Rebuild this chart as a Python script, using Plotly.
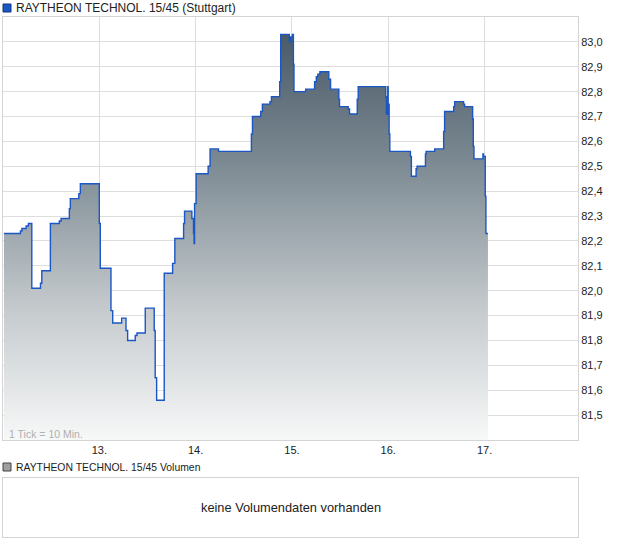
import plotly.graph_objects as go

# ---- data (time in day-of-month units, price in EUR) ----
times = [12.01, 12.181, 12.196, 12.240, 12.264, 12.299, 12.389, 12.403, 12.492, 12.585,
         12.603, 12.689, 12.699, 12.787, 12.803, 13.000, 13.010, 13.121, 13.139, 13.232,
         13.277, 13.294, 13.373, 13.391, 13.477, 13.570, 13.580, 13.595, 13.674, 13.761,
         13.784, 13.875, 13.885, 13.961, 13.978, 13.984, 13.989, 14.005, 14.130, 14.150,
         14.237, 14.579, 14.590, 14.676, 14.693, 14.772, 14.787, 14.873, 14.883, 14.973,
         14.987, 15.004, 15.015, 15.021, 15.142, 15.235, 15.253, 15.269, 15.290, 15.383,
         15.401, 15.487, 15.494, 15.584, 15.598, 15.678, 15.688, 15.974, 15.981, 15.995,
         15.999, 16.009, 16.016, 16.230, 16.240, 16.289, 16.299, 16.386, 16.393, 16.482,
         16.575, 16.585, 16.679, 16.689, 16.782, 16.793, 16.876, 16.883, 16.890, 16.983,
         16.989, 16.997, 17.007, 17.014, 17.035]
prices = [82.23, 82.24, 82.25, 82.26, 82.27, 82.01, 82.03, 82.08, 82.27, 82.28,
          82.29, 82.33, 82.37, 82.39, 82.43, 82.27, 82.09, 81.92, 81.87, 81.89,
          81.84, 81.80, 81.82, 81.83, 81.93, 81.84, 81.65, 81.56, 82.07, 82.11,
          82.21, 82.27, 82.32, 82.29, 82.23, 82.19, 82.35, 82.47, 82.50, 82.57,
          82.56, 82.63, 82.70, 82.72, 82.75, 82.76, 82.78, 82.84, 83.03, 83.00,
          83.02, 83.03, 82.91, 82.80, 82.81, 82.84, 82.86, 82.87, 82.88, 82.85,
          82.81, 82.77, 82.74, 82.73, 82.71, 82.77, 82.82, 82.78, 82.71, 82.82,
          82.75, 82.63, 82.56, 82.54, 82.46, 82.49, 82.50, 82.55, 82.56, 82.57,
          82.64, 82.72, 82.74, 82.76, 82.75, 82.74, 82.69, 82.58, 82.53, 82.55,
          82.54, 82.54, 82.38, 82.23, 82.23]
day_ticks = [13, 14, 15, 16, 17]
day_labels = ["13.", "14.", "15.", "16.", "17."]
price_ticks = [81.5, 81.6, 81.7, 81.8, 81.9, 82.0, 82.1, 82.2, 82.3, 82.4, 82.5, 82.6, 82.7, 82.8, 82.9, 83.0]
title_main = "RAYTHEON TECHNOL. 15/45 (Stuttgart)"
title_vol = "RAYTHEON TECHNOL. 15/45 Volumen"
no_vol_text = "keine Volumendaten vorhanden"
tick_note = "1 Tick = 10 Min."

W, H = 620, 546
ML, MR, MT, MB = 3, 42, 17, 9
PW, PH = W - ML - MR, H - MT - MB

def px(x):
    return (x - ML) / PW

def py(y):
    return (H - MB - y) / PH

FONT = "Liberation Sans, Arial, sans-serif"
GRID = "#dedede"
FRAME = "#d4d4d4"

fig = go.Figure()
fig.add_trace(go.Scatter(
    x=times, y=prices, mode="lines", line=dict(color="#1a56c4", width=1.4, shape="hv"),
    fill="tozeroy",
    fillgradient=dict(type="vertical", start=81.4, stop=83.1,
                      colorscale=[[0, "#f7f8f8"], [0.31, "#c5cacd"], [0.665, "#7a8891"], [1, "#435462"]]),
    hoverinfo="skip", showlegend=False,
))

fig.update_layout(
    width=W, height=H,
    margin=dict(l=ML, r=MR, t=MT, b=MB),
    paper_bgcolor="white", plot_bgcolor="white",
    separators=",.",
    font=dict(family=FONT, size=11, color="#222222"),
    showlegend=False,
    xaxis=dict(range=[12.0, 17.97], tickvals=day_ticks, ticktext=day_labels,
               showgrid=True, gridcolor=GRID, gridwidth=1, zeroline=False,
               showline=True, linecolor=FRAME, linewidth=1, mirror=True,
               ticks="", tickfont=dict(size=11, color="#222"), anchor="y",
               domain=[0, 1]),
    yaxis=dict(range=[81.4, 83.1], tickvals=price_ticks, tickformat=".1f", side="right",
               showgrid=True, gridcolor=GRID, gridwidth=1, zeroline=False,
               showline=True, linecolor=FRAME, linewidth=1, mirror=True,
               ticks="", tickfont=dict(size=11, color="#222"),
               domain=[py(440), py(17)], anchor="x"),
    xaxis2=dict(range=[0, 1], showticklabels=False, showgrid=False, zeroline=False,
                showline=True, linecolor=FRAME, linewidth=1, mirror=True, ticks="",
                anchor="y2", domain=[0, 1]),
    yaxis2=dict(range=[0, 1], showticklabels=False, showgrid=False, zeroline=False,
                showline=True, linecolor=FRAME, linewidth=1, mirror=True, ticks="",
                anchor="x2", domain=[py(537), py(478)]),
)
# dummy trace to show volume panel axes
fig.add_trace(go.Scatter(x=[None], y=[None], xaxis="x2", yaxis="y2", showlegend=False, hoverinfo="skip"))

# legend-like headers
fig.add_shape(type="rect", xref="paper", yref="paper", x0=px(3), x1=px(11), y0=py(12), y1=py(4),
              fillcolor="#1a56c4", line=dict(color="#12357a", width=1))
fig.add_annotation(text=title_main, xref="paper", yref="paper", x=px(14), y=py(8),
                   xanchor="left", yanchor="middle", showarrow=False,
                   font=dict(size=12, color="#222"))
fig.add_shape(type="rect", xref="paper", yref="paper", x0=px(3), x1=px(11), y0=py(471), y1=py(463),
              fillcolor="#a0a0a0", line=dict(color="#444", width=1))
fig.add_annotation(text=title_vol, xref="paper", yref="paper", x=px(14), y=py(467),
                   xanchor="left", yanchor="middle", showarrow=False,
                   font=dict(size=10.4, color="#222"))
fig.add_annotation(text=no_vol_text, xref="x2 domain", yref="y2 domain", x=0.5, y=0.5,
                   showarrow=False, font=dict(size=12.8, color="#222"))
fig.add_annotation(text=tick_note, xref="paper", yref="paper", x=px(7), y=py(434),
                   xanchor="left", yanchor="middle", showarrow=False,
                   font=dict(size=10.5, color="#b0b0b0"))

fig.write_html("out.html", config={"displayModeBar": False},
               post_script="document.body.style.margin='0px';document.body.style.overflow='hidden';")
